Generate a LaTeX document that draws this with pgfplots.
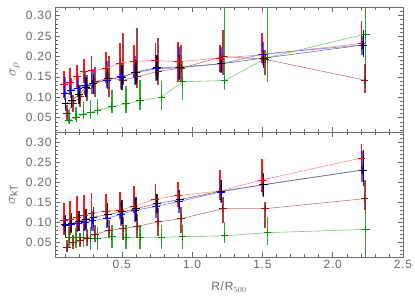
\documentclass[border=0pt]{standalone}
\usepackage{pgfplots}
\usepackage{pgfplotstable}
\pgfplotsset{compat=1.18}
\usepackage{fontspec}
\setmainfont{Liberation Sans}[LetterSpace=6]
\definecolor{cRed}{RGB}{255,0,0}
\definecolor{cRedL}{RGB}{255,140,140}
\definecolor{cBlue}{RGB}{0,0,255}
\definecolor{cBlueL}{RGB}{120,120,255}
\definecolor{cBlk}{RGB}{0,0,0}
\definecolor{cBlkL}{RGB}{120,120,120}
\definecolor{cBrn}{RGB}{140,20,20}
\definecolor{cBrnL}{RGB}{190,120,120}
\definecolor{cGrn}{RGB}{0,140,0}
\definecolor{cGrnL}{RGB}{120,200,120}
\definecolor{txt}{RGB}{105,105,105}

% upper panel (sigma_rho)
\pgfplotstableread{
x y ep em
0.088 0.131 0.033 0.033
0.131 0.136 0.035 0.030
0.183 0.152 0.028 0.030
0.233 0.164 0.030 0.030
0.286 0.165 0.035 0.035
0.388 0.170 0.042 0.036
0.488 0.184 0.048 0.042
0.588 0.188 0.040 0.040
0.738 0.190 0.042 0.035
0.900 0.187 0.049 0.049
1.197 0.196 0.032 0.033
1.497 0.204 0.053 0.021
2.205 0.232 0.055 0.016
}\redU
\pgfplotstableread{
x y ep em
0.095 0.110 0.040 0.017
0.138 0.118 0.030 0.020
0.190 0.122 0.030 0.020
0.240 0.128 0.035 0.022
0.293 0.133 0.037 0.025
0.395 0.142 0.048 0.020
0.495 0.150 0.035 0.030
0.595 0.160 0.040 0.030
0.745 0.170 0.033 0.030
0.907 0.172 0.050 0.030
1.205 0.182 0.042 0.023
1.505 0.206 0.030 0.027
2.213 0.228 0.021 0.024
}\blueU
\pgfplotstableread{
x y ep em
0.101 0.084 0.015 0.018
0.144 0.093 0.020 0.020
0.196 0.106 0.022 0.022
0.246 0.125 0.025 0.025
0.299 0.133 0.025 0.025
0.401 0.145 0.025 0.025
0.501 0.149 0.030 0.030
0.601 0.162 0.030 0.030
0.751 0.173 0.030 0.030
0.913 0.174 0.030 0.030
1.210 0.182 0.020 0.020
1.510 0.196 0.020 0.025
2.218 0.228 0.037 0.030
}\blkU
\pgfplotstableread{
x y ep em
0.110 0.061 0.020 0.017
0.153 0.085 0.020 0.020
0.205 0.101 0.029 0.026
0.255 0.122 0.033 0.032
0.308 0.138 0.037 0.038
0.410 0.147 0.053 0.047
0.510 0.142 0.116 0.012
0.610 0.150 0.120 0.028
0.760 0.164 0.080 0.034
0.922 0.171 0.057 0.033
1.219 0.200 0.065 0.045
1.519 0.193 0.023 0.038
2.227 0.142 0.039 0.032
}\brnU
\pgfplotstableread{
x y ep em
0.126 0.044 0.025 0.008
0.174 0.050 0.027 0.006
0.226 0.059 0.030 0.011
0.279 0.063 0.030 0.015
0.326 0.068 0.029 0.012
0.429 0.077 0.041 0.016
0.531 0.084 0.044 0.023
0.631 0.092 0.050 0.023
0.781 0.100 0.040 0.030
0.933 0.138 0.052 0.045
1.231 0.141 0.250 0.023
1.536 0.197 0.200 0.059
2.235 0.255 0.200 0.133
}\grnU

% lower panel (sigma_kT)
\pgfplotstableread{
x y ep em
0.088 0.105 0.042 0.037
0.131 0.107 0.045 0.040
0.183 0.112 0.055 0.036
0.233 0.118 0.050 0.040
0.286 0.123 0.050 0.040
0.388 0.128 0.044 0.018
0.488 0.130 0.046 0.021
0.588 0.140 0.052 0.018
0.738 0.158 0.039 0.020
0.900 0.167 0.033 0.029
1.197 0.178 0.052 0.023
1.497 0.206 0.053 0.030
2.205 0.261 0.035 0.040
}\redL
\pgfplotstableread{
x y ep em
0.095 0.095 0.020 0.020
0.138 0.095 0.020 0.020
0.190 0.097 0.020 0.020
0.240 0.100 0.022 0.022
0.293 0.104 0.025 0.025
0.395 0.110 0.025 0.025
0.495 0.120 0.030 0.030
0.595 0.130 0.030 0.030
0.745 0.140 0.030 0.030
0.907 0.152 0.030 0.030
1.205 0.176 0.029 0.029
1.505 0.194 0.028 0.028
2.213 0.231 0.048 0.031
}\blueL
\pgfplotstableread{
x y ep em
0.101 0.091 0.027 0.027
0.144 0.097 0.025 0.025
0.196 0.103 0.025 0.025
0.246 0.107 0.025 0.025
0.299 0.113 0.025 0.025
0.401 0.119 0.030 0.030
0.501 0.126 0.030 0.030
0.601 0.134 0.030 0.030
0.751 0.147 0.025 0.025
0.913 0.157 0.025 0.025
1.210 0.178 0.028 0.028
1.510 0.194 0.030 0.030
2.218 0.231 0.049 0.039
}\blkL
\pgfplotstableread{
x y ep em
0.110 0.036 0.019 0.010
0.153 0.049 0.020 0.015
0.205 0.054 0.020 0.015
0.255 0.060 0.022 0.020
0.308 0.070 0.022 0.020
0.410 0.080 0.025 0.020
0.510 0.084 0.029 0.029
0.610 0.090 0.030 0.030
0.760 0.101 0.034 0.036
0.922 0.109 0.030 0.035
1.219 0.134 0.029 0.037
1.519 0.134 0.017 0.049
2.227 0.159 0.046 0.029
}\brnL
\pgfplotstableread{
x y ep em
0.126 0.061 0.026 0.026
0.174 0.061 0.025 0.025
0.226 0.062 0.025 0.025
0.279 0.059 0.028 0.028
0.326 0.059 0.028 0.028
0.429 0.064 0.028 0.028
0.531 0.062 0.030 0.030
0.631 0.062 0.030 0.030
0.781 0.062 0.030 0.030
0.933 0.064 0.030 0.030
1.231 0.066 0.034 0.019
1.536 0.074 0.039 0.031
2.235 0.082 0.065 0.100
}\grnL

\pgfplotsset{
  ser/.style n args={4}{color=#2, line width=0.6pt, mark=+, mark size=3.8pt,
    mark options={#1, line width=0.8pt, solid, opacity=1},
    /pgfplots/error bars/y dir=both, /pgfplots/error bars/y explicit,
    /pgfplots/error bars/error mark=none,
    /pgfplots/error bars/error bar style={#1, line width=#3, opacity=#4}},
  panel/.style={
    scale only axis, width=348pt, height=125pt,
    xmin=0.025, xmax=2.5,
    xtick={0.5,1.0,1.5,2.0,2.5},
    minor xtick={0.1,0.2,0.3,0.4,0.6,0.7,0.8,0.9,1.1,1.2,1.3,1.4,1.6,1.7,1.8,1.9,2.1,2.2,2.3,2.4},
    ytick={0.05,0.10,0.15,0.20,0.25,0.30},
    minor ytick={0.02,0.03,0.04,0.06,0.07,0.08,0.09,0.11,0.12,0.13,0.14,0.16,0.17,0.18,0.19,0.21,0.22,0.23,0.24,0.26,0.27,0.28,0.29,0.31,0.32},
    tick align=inside, major tick length=5pt, minor tick length=3pt,
    every tick/.style={txt, line width=0.5pt},
    axis line style={txt, line width=0.6pt},
    tick label style={txt, font=\fontsize{12}{14}\selectfont},
    label style={txt, font=\fontsize{12}{14}\selectfont},
    /pgf/number format/assume math mode=true,
    yticklabel style={/pgf/number format/fixed, /pgf/number format/precision=2, /pgf/number format/fixed zerofill},
    xticklabel style={/pgf/number format/fixed, /pgf/number format/precision=1, /pgf/number format/fixed zerofill},
    clip=true,
  }
}

\begin{document}
\begin{tikzpicture}
\path[use as bounding box] (0,0) rectangle (415pt,301pt);
\begin{axis}[panel, at={(55pt,169pt)}, anchor=south west,
  ymin=0.015, ymax=0.321, xticklabels={},
  ylabel={\fontsize{15}{17}\selectfont$\sigma_{\rho}$}, ylabel style={at={(axis description cs:-0.115,0.5)}, anchor=center}]
\addplot[ser={cGrn}{cGrnL}{1.5pt}{0.8}] table[x=x,y=y,y error plus=ep,y error minus=em]{\grnU};
\addplot[ser={cBrn}{cBrnL}{1.8pt}{0.8}] table[x=x,y=y,y error plus=ep,y error minus=em]{\brnU};
\addplot[ser={cRed}{cRedL}{1.5pt}{0.9}] table[x=x,y=y,y error plus=ep,y error minus=em]{\redU};
\addplot[ser={cBlue}{cBlueL}{2.5pt}{0.65}] table[x=x,y=y,y error plus=ep,y error minus=em]{\blueU};
\addplot[ser={cBlk}{cBlkL}{1.2pt}{0.85}] table[x=x,y=y,y error plus=ep,y error minus=em]{\blkU};
\end{axis}
\begin{axis}[panel, at={(55pt,44pt)}, anchor=south west,
  ymin=0.013, ymax=0.326,
  ylabel={\fontsize{15}{17}\selectfont$\sigma_{\mathrm{kT}}$}, ylabel style={at={(axis description cs:-0.12,0.5)}, anchor=center},
  xlabel={R/R$_{500}$}, xlabel style={at={(axis description cs:0.5,-0.24)}, anchor=center}]
\addplot[ser={cGrn}{cGrnL}{1.5pt}{0.8}] table[x=x,y=y,y error plus=ep,y error minus=em]{\grnL};
\addplot[ser={cBrn}{cBrnL}{1.8pt}{0.8}] table[x=x,y=y,y error plus=ep,y error minus=em]{\brnL};
\addplot[ser={cRed}{cRedL}{1.5pt}{0.9}] table[x=x,y=y,y error plus=ep,y error minus=em]{\redL};
\addplot[ser={cBlue}{cBlueL}{2.5pt}{0.65}] table[x=x,y=y,y error plus=ep,y error minus=em]{\blueL};
\addplot[ser={cBlk}{cBlkL}{1.2pt}{0.85}] table[x=x,y=y,y error plus=ep,y error minus=em]{\blkL};
\end{axis}
\end{tikzpicture}
\end{document}
